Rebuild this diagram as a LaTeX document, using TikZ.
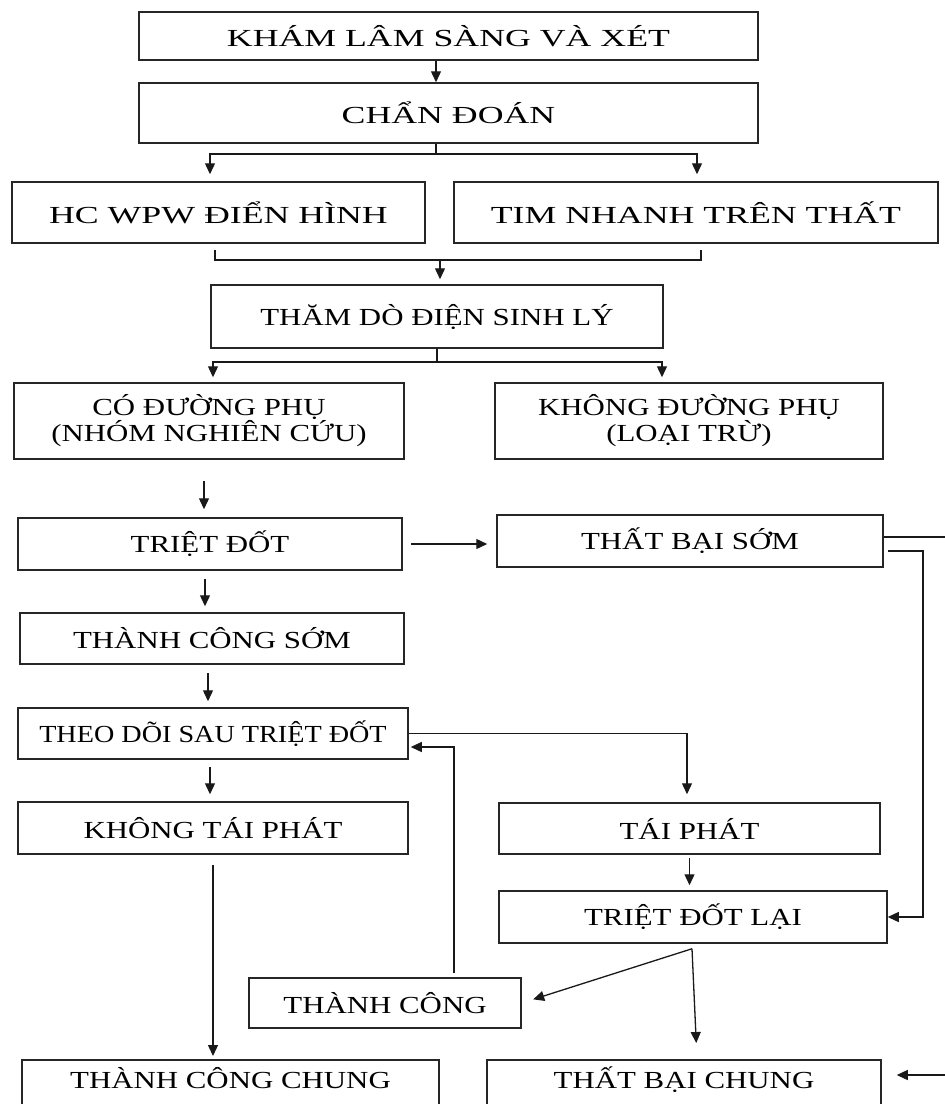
\documentclass[tikz,border=0pt]{standalone}
\usepackage{fontspec}
\setmainfont{Liberation Serif}
\newfontfamily\wideserif{Liberation Serif}[FakeStretch=1.46]
\newfontfamily\midserif{Liberation Serif}[FakeStretch=1.26]
\newfontfamily\narrowserif{Liberation Serif}[FakeStretch=1.15]
\usetikzlibrary{arrows.meta,positioning,calc}

\begin{document}
\begin{tikzpicture}[
  x=1pt, y=-1pt,
  box/.style={draw=black!85, line width=1.5pt, inner sep=0pt, align=center,
              font=\fontsize{24.5}{25}\selectfont\midserif},
  widebox/.style={box, font=\fontsize{24.5}{25}\selectfont\wideserif},
  narrowbox/.style={box, font=\fontsize{24.5}{25}\selectfont\narrowserif},
  cutbox/.style={box, anchor=north, text height=28.5pt, text depth=40pt},
  link/.style={draw=black!90, line width=1.3pt},
  arr/.style={link, -{Triangle[length=11pt,width=10pt]}}
]
  \useasboundingbox (0,0) rectangle (945,1104);
  \clip (0,0) rectangle (945,1104);

  \node[widebox, minimum width=619pt, minimum height=48pt] (kham) at (448.5,36) {KHÁM LÂM SÀNG VÀ XÉT};
  \node[widebox, minimum width=619pt, minimum height=60pt] (chan) at (448.5,113) {CHẨN ĐOÁN};
  \node[widebox, minimum width=413pt, minimum height=61pt] (hc)   at (218.5,212.5) {HC WPW ĐIỂN HÌNH};
  \node[widebox, minimum width=484pt, minimum height=61pt] (tim)  at (696,212.5) {TIM NHANH TRÊN THẤT};
  \node[box, minimum width=452pt, minimum height=63pt] (tham)  at (437,316.5) {THĂM DÒ ĐIỆN SINH LÝ};
  \node[box, minimum width=390pt, minimum height=76pt] (co)    at (209,421) {CÓ ĐƯỜNG PHỤ\\(NHÓM NGHIÊN CỨU)};
  \node[box, minimum width=388pt, minimum height=76pt] (khong) at (689,421) {KHÔNG ĐƯỜNG PHỤ\\(LOẠI TRỪ)};
  \node[box, minimum width=384pt, minimum height=52pt] (triet) at (210,544) {TRIỆT ĐỐT};
  \node[box, minimum width=386pt, minimum height=52pt] (tbsom) at (690,541) {THẤT BẠI SỚM};
  \node[box, minimum width=384pt, minimum height=51pt] (tcsom) at (212,638.5) {THÀNH CÔNG SỚM};
  \node[narrowbox, minimum width=390pt, minimum height=51pt] (theo) at (213,733.5) {THEO DÕI SAU TRIỆT ĐỐT};
  \node[box, minimum width=390pt, minimum height=52pt] (ktp)   at (213,828) {KHÔNG TÁI PHÁT};
  \node[box, minimum width=381pt, minimum height=51pt] (tp)    at (689.5,828.5) {TÁI PHÁT};
  \node[box, minimum width=388pt, minimum height=52pt] (lai)   at (693,917) {TRIỆT ĐỐT LẠI};
  \node[box, minimum width=272pt, minimum height=50pt] (tc)    at (385,1003) {THÀNH CÔNG};
  \node[cutbox, minimum width=417pt] (tcchung) at (230.5,1059) {THÀNH CÔNG CHUNG};
  \node[cutbox, minimum width=394pt] (tbchung) at (684,1059) {THẤT BẠI CHUNG};

  \coordinate (s1) at (436,154);
  \coordinate (m1) at (440,260);
  \coordinate (s2) at (437,362);
  \coordinate (r1) at (923,551);
  \coordinate (e1) at (952,537);
  \coordinate (e2) at (952,1075);

  \draw[arr] ([xshift=-12.5pt]kham.south) -- ([xshift=-12.5pt]chan.north);
  \draw[link] ([xshift=-12.5pt]chan.south) -- (s1);
  \draw[arr, shorten >=7pt] (s1) -| ([xshift=-8.5pt]hc.north);
  \draw[arr, shorten >=7pt] (s1) -| ([xshift=1pt]tim.north);

  \draw[link] ([xshift=-3.5pt,yshift=-6pt]hc.south) |- (m1) -| ([xshift=5pt,yshift=-6pt]tim.south);
  \draw[arr, shorten >=5pt] (m1) -- (m1 |- tham.north);

  \draw[link] (tham.south) -- (s2);
  \draw[arr, shorten >=5pt] (s2) -| ([xshift=4pt]co.north);
  \draw[arr, shorten >=5pt] (s2) -| ([xshift=-27pt]khong.north);

  \draw[arr, shorten <=21pt, shorten >=8pt] ([xshift=-5pt]co.south) -- ([xshift=-6pt]triet.north);
  \draw[arr, shorten <=8pt, shorten >=9pt] (triet.east) -- (triet.east -| tbsom.west);
  \draw[arr, shorten <=8pt, shorten >=6pt] ([xshift=-5pt]triet.south) -- ([xshift=-7pt]tcsom.north);
  \draw[arr, shorten <=8pt, shorten >=6pt] ([xshift=-4pt]tcsom.south) -- ([xshift=-5pt]theo.north);
  \draw[arr, shorten <=7pt, shorten >=7pt] ([xshift=-3pt]theo.south) -- ([xshift=-3pt]ktp.north);
  \draw[arr, shorten <=10pt, shorten >=3pt] (ktp.south) -- (ktp.south |- tcchung.north);

  \draw[link] ([yshift=4pt]tbsom.east) -- (e1) -- (e2);
  \draw[arr, shorten >=15pt] (e2) -- (e2 -| tbchung.east);
  \draw[arr] ([xshift=4pt,yshift=-10pt]tbsom.east) -- (r1) |- (lai.east);

  \draw[arr, shorten >=8pt] (theo.east) -| ([xshift=-2.5pt]tp.north);
  \draw[arr, shorten <=4pt, shorten >=2pt] ([xshift=69pt]tc.north) |- ([yshift=-13.5pt]theo.east);
  \draw[arr, shorten <=3pt, shorten >=5pt] (tp.south) -- (tp.south |- lai.north);

  \draw[arr, shorten >=12pt] ([xshift=-1pt,yshift=-5pt]lai.south) -- (tc.east);
  \draw[arr, shorten >=16pt] ([xshift=-1pt,yshift=-5pt]lai.south) -- ([xshift=13pt]tbchung.north);

\end{tikzpicture}
\end{document}
